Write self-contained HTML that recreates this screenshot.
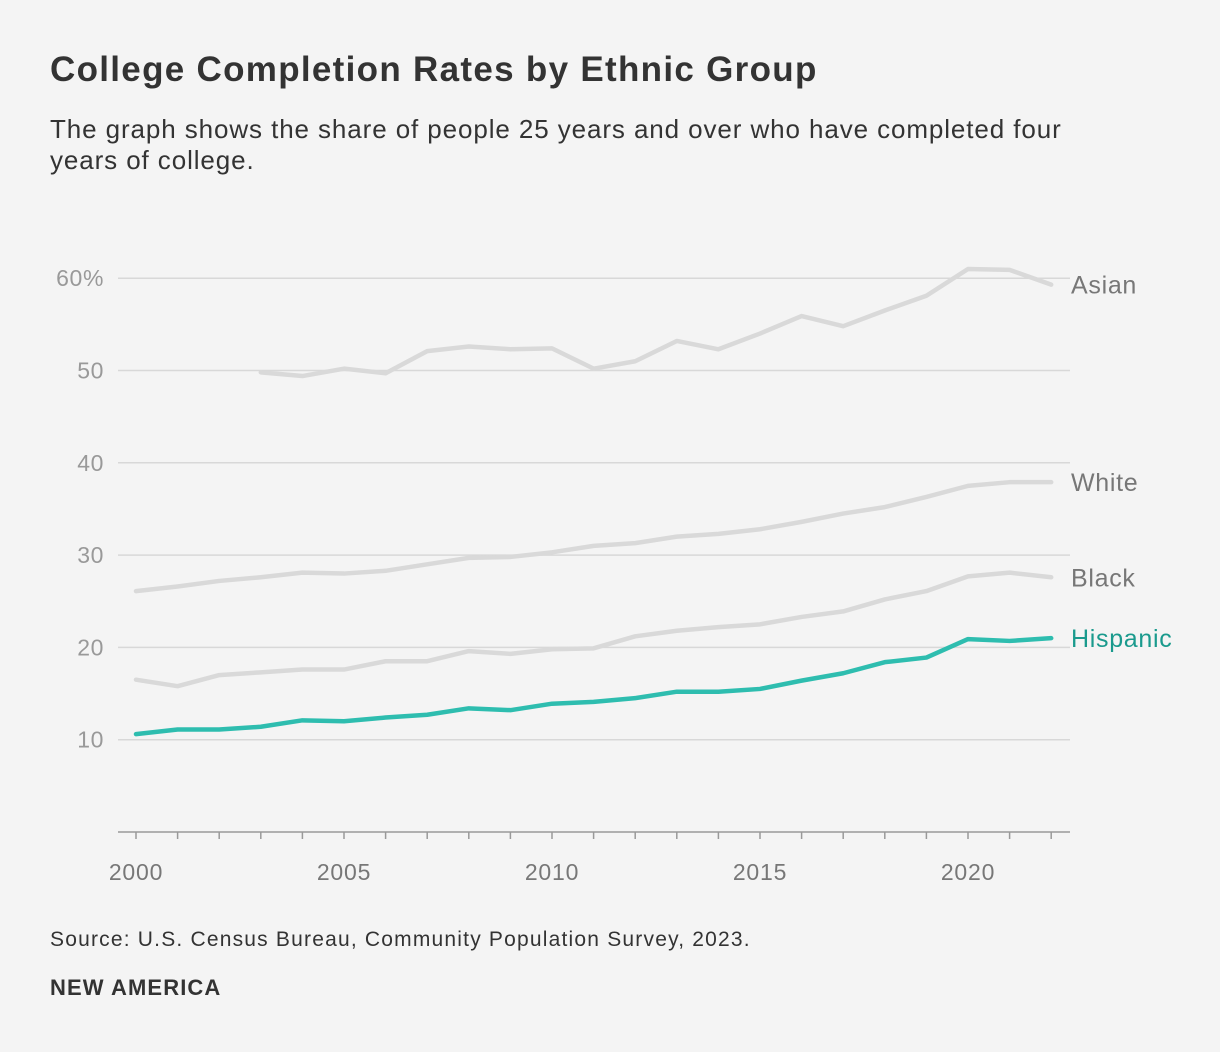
<!DOCTYPE html>
<html><head><meta charset="utf-8"><style>
body{margin:0;background:#f4f4f4;font-family:"Liberation Sans",sans-serif;}
#wrap{position:relative;width:1220px;height:1052px;background:#f4f4f4;}
h1{position:absolute;left:50px;top:50px;margin:0;font-size:35px;letter-spacing:1.3px;font-weight:bold;color:#333;}
.sub{position:absolute;left:50px;top:114px;margin:0;font-size:26px;letter-spacing:0.9px;line-height:31px;color:#333;width:1100px;}
.src{position:absolute;left:50px;top:928px;font-size:21px;letter-spacing:1.2px;color:#333;}
.brand{position:absolute;left:50px;top:975px;font-size:22px;letter-spacing:1.1px;font-weight:bold;color:#333;}
</style></head><body>
<div id="wrap">
<h1>College Completion Rates by Ethnic Group</h1>
<p class="sub">The graph shows the share of people 25 years and over who have completed four<br>years of college.</p>
<svg id="chart" width="1220" height="1052" style="position:absolute;left:0;top:0"></svg>
<div class="src">Source: U.S. Census Bureau, Community Population Survey, 2023.</div>
<div class="brand">NEW AMERICA</div>
</div>
<script>
const years=[2000,2001,2002,2003,2004,2005,2006,2007,2008,2009,2010,2011,2012,2013,2014,2015,2016,2017,2018,2019,2020,2021,2022];
const asian=[null,null,null,49.8,49.4,50.2,49.7,52.1,52.6,52.3,52.4,50.2,51.0,53.2,52.3,54.0,55.9,54.8,56.5,58.1,61.0,60.9,59.3];
const white=[26.1,26.6,27.2,27.6,28.1,28.0,28.3,29.0,29.7,29.8,30.3,31.0,31.3,32.0,32.3,32.8,33.6,34.5,35.2,36.3,37.5,37.9,37.9];
const black=[16.5,15.8,17.0,17.3,17.6,17.6,18.5,18.5,19.6,19.3,19.8,19.9,21.2,21.8,22.2,22.5,23.3,23.9,25.2,26.1,27.7,28.1,27.6];
const hispanic=[10.6,11.1,11.1,11.4,12.1,12.0,12.4,12.7,13.4,13.2,13.9,14.1,14.5,15.2,15.2,15.5,16.4,17.2,18.4,18.9,20.9,20.7,21.0];
const yTicks=[10,20,30,40,50,60];
const yTickLabels=["10","20","30","40","50","60%"];
const xTicks=[2000,2005,2010,2015,2020];
const svg=document.getElementById('chart');
const NS='http://www.w3.org/2000/svg';
const x=v=>136+(v-2000)*41.6;
const y=v=>832-v*9.23;
function mk(t,a){const e=document.createElementNS(NS,t);for(const k in a)e.setAttribute(k,a[k]);svg.appendChild(e);return e;}
yTicks.forEach((t,i)=>{
  const g=mk('line',{x1:118,x2:1070,y1:y(t),y2:y(t),stroke:'#d8d8d8','stroke-width':1.5});
  
  
  const l=mk('text',{x:104,y:y(t)+8,'text-anchor':'end','font-size':23,'letter-spacing':0.6,fill:'#999','font-family':'Liberation Sans, sans-serif'});
  l.textContent=yTickLabels[i];
  
  
});
const ax=mk('line',{x1:118,x2:1070,y1:y(0),y2:y(0),stroke:'#999','stroke-width':1.5});


years.forEach(yr=>{const tk=mk('line',{x1:x(yr),x2:x(yr),y1:y(0),y2:y(0)+7,stroke:'#999','stroke-width':1.5});

});
xTicks.forEach(t=>{const l=mk('text',{x:x(t),y:880,'text-anchor':'middle','font-size':23,'letter-spacing':0.8,fill:'#777','font-family':'Liberation Sans, sans-serif'});l.textContent=t;

});
function series(vals,color,name,label,lc,dy){
  let d='';vals.forEach((v,i)=>{if(v==null)return;d+=(d?'L':'M')+x(years[i])+','+y(v);});
  const p=mk('path',{d:d,fill:'none',stroke:color,'stroke-width':4.5,'stroke-linejoin':'round','stroke-linecap':'round'});
  
  
  const last=vals[vals.length-1];
  const t=mk('text',{x:1071,y:y(last)+9+dy,'font-size':25,'letter-spacing':0.7,fill:lc,'font-family':'Liberation Sans, sans-serif'});
  t.textContent=label;
  
  
}
series(asian,'#d9d9d9','asian','Asian','#777',0);
series(white,'#d9d9d9','white','White','#777',0);
series(black,'#d9d9d9','black','Black','#777',0);
series(hispanic,'#2ebdaf','hispanic','Hispanic','#1a9a8d',0);
</script>
</body></html>
